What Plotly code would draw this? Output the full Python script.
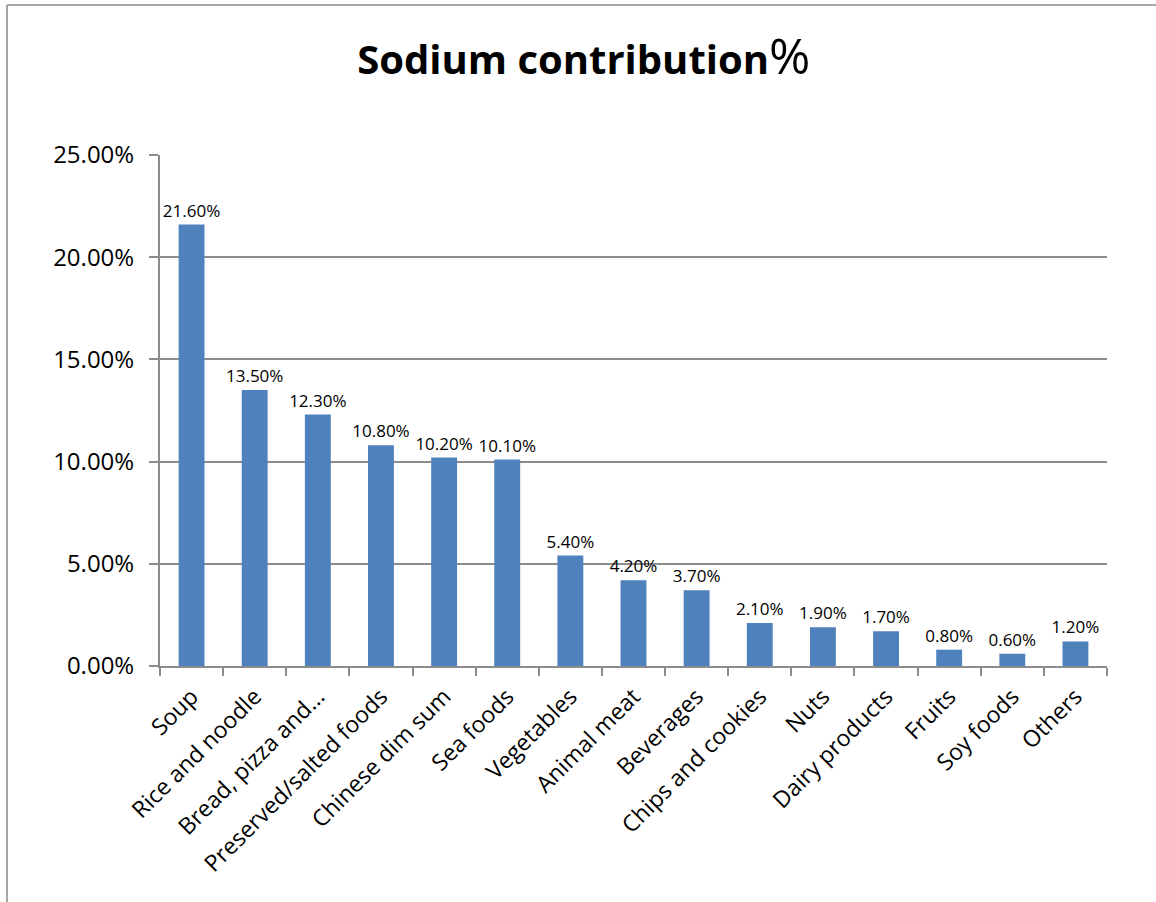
import plotly.graph_objects as go

categories = ["Soup", "Rice and noodle", "Bread, pizza and...", "Preserved/salted foods",
              "Chinese dim sum", "Sea foods", "Vegetables", "Animal meat", "Beverages",
              "Chips and cookies", "Nuts", "Dairy products", "Fruits", "Soy foods", "Others"]
values = [21.6, 13.5, 12.3, 10.8, 10.2, 10.1, 5.4, 4.2, 3.7, 2.1, 1.9, 1.7, 0.8, 0.6, 1.2]
y_ticks = [0, 5, 10, 15, 20, 25]

FONT = "Open Sans"
GRID = "#8c8c8c"

fig = go.Figure(go.Bar(
    x=categories, y=values,
    marker=dict(color="#4f81bd", line=dict(width=0)),
    text=[f"{v:.2f}%" for v in values],
    textposition="outside",
    constraintext="none",
    textfont=dict(family=FONT, size=17, color="#000000"),
    cliponaxis=False,
))

L, R, T, B = 160, 1156 - 1107, 155, 902 - 666
W, H = 1156 - L - R, 902 - T - B

def px_x(p):
    return (p - L) / W

def px_y(p):
    return (902 - B - p) / H

fig.update_layout(
    width=1156, height=902,
    margin=dict(l=L, r=R, t=T, b=B),
    paper_bgcolor="white", plot_bgcolor="white",
    bargap=0.59,
    showlegend=False,
    title=dict(text="<b>Sodium contribution</b><span style='font-size:50px'>%</span>",
               x=0.505, xanchor="center",
               y=1 - 60 / 902, yanchor="middle",
               font=dict(family=FONT, size=40, color="#000000")),
    font=dict(family=FONT, color="#000000"),
    xaxis=dict(
        showline=True, linecolor=GRID, linewidth=2,
        ticks="outside", tickson="boundaries", ticklen=8, tickcolor=GRID, tickwidth=2,
        tickangle=-45, tickfont=dict(family=FONT, size=23, color="#000000"),
        showgrid=False, ticklabelstandoff=6,
    ),
    yaxis=dict(
        range=[0, 25], tickvals=y_ticks,
        ticktext=[f"{v:.2f}%" for v in y_ticks],
        showline=True, linecolor=GRID, linewidth=2,
        ticks="outside", ticklen=9, tickcolor=GRID, tickwidth=2,
        showgrid=True, gridcolor=GRID, gridwidth=2,
        tickfont=dict(family=FONT, size=24, color="#000000"),
        zeroline=False, ticklabelstandoff=10,
    ),
    shapes=[
        dict(type="line", xref="paper", yref="paper",
             x0=px_x(7), x1=px_x(7), y0=px_y(905), y1=px_y(5),
             line=dict(color="#a6a6a6", width=2)),
        dict(type="line", xref="paper", yref="paper",
             x0=px_x(7), x1=px_x(1160), y0=px_y(5), y1=px_y(5),
             line=dict(color="#a6a6a6", width=2)),
    ],
)

fig.write_html("out.html")
